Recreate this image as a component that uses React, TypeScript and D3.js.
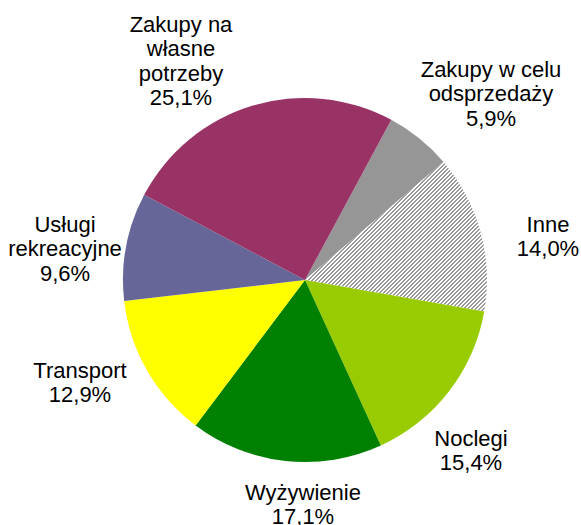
import React from "react";
import * as d3 from "d3";

const categories = [
  "Zakupy w celu odsprzedaży",
  "Inne",
  "Noclegi",
  "Wyżywienie",
  "Transport",
  "Usługi rekreacyjne",
  "Zakupy na własne potrzeby",
];
const values = [5.9, 14.0, 15.4, 17.1, 12.9, 9.6, 25.1];
const valueLabels = ["5,9%", "14,0%", "15,4%", "17,1%", "12,9%", "9,6%", "25,1%"];
const labelLines = [
  ["Zakupy w celu", "odsprzedaży"],
  ["Inne"],
  ["Noclegi"],
  ["Wyżywienie"],
  ["Transport"],
  ["Usługi", "rekreacyjne"],
  ["Zakupy na", "własne", "potrzeby"],
];

// styling / layout (not data)
const colors = ["#969696", "url(#hatch)", "#99CC00", "#008000", "#FFFF00", "#666699", "#993366"];
const labelAnchors: [number, number][] = [
  [491, 77],
  [548, 232],
  [471, 446],
  [303, 500],
  [80, 378],
  [65, 232],
  [181, 32],
];

const W = 581;
const H = 525;
const cx = 305;
const cy = 280;
const R = 182;
const startDeg = 28.3;
const lineH = 24.3;

// hatch pixels (x,y) inside a 4x4 tile, forming "/" stripes
const hatchPixels: [number, number][] = [
  [2, 0], [3, 0],
  [1, 1], [2, 1],
  [0, 2], [1, 2],
  [3, 3], [0, 3],
];

export default function App() {
  const pie = d3
    .pie<number>()
    .value((d) => d)
    .sort(null)
    .startAngle((startDeg * Math.PI) / 180)
    .endAngle((startDeg * Math.PI) / 180 + 2 * Math.PI);
  const arcs = pie(values);
  const arcGen = d3.arc<d3.PieArcDatum<number>>().innerRadius(0).outerRadius(R);

  return (
    <svg
      width={W}
      height={H}
      style={{ position: "absolute", left: 0, top: 0, background: "#fff" }}
      fontFamily="'Liberation Sans', Arial, sans-serif"
    >
      <defs>
        <pattern id="hatch" width={4} height={4} patternUnits="userSpaceOnUse">
          <rect width={4} height={4} fill="#ffffff" />
          {hatchPixels.map(([px, py], k) => (
            <rect key={k} x={px} y={py} width={1} height={1} fill="#9a9a9a" shapeRendering="crispEdges" />
          ))}
        </pattern>
      </defs>
      <rect width={W} height={H} fill="#fff" />
      <g transform={`translate(${cx},${cy})`}>
        {arcs.map((a, i) => (
          <path key={categories[i]} d={arcGen(a) || ""} fill={colors[i]} />
        ))}
      </g>
      {labelLines.map((lines, i) => {
        const [x, y] = labelAnchors[i];
        const all = [...lines, valueLabels[i]];
        return (
          <text key={categories[i]} x={x} y={y} textAnchor="middle" fontSize={22} fill="#000">
            {all.map((t, j) => (
              <tspan key={j} x={x} y={y + j * lineH}>
                {t}
              </tspan>
            ))}
          </text>
        );
      })}
    </svg>
  );
}
